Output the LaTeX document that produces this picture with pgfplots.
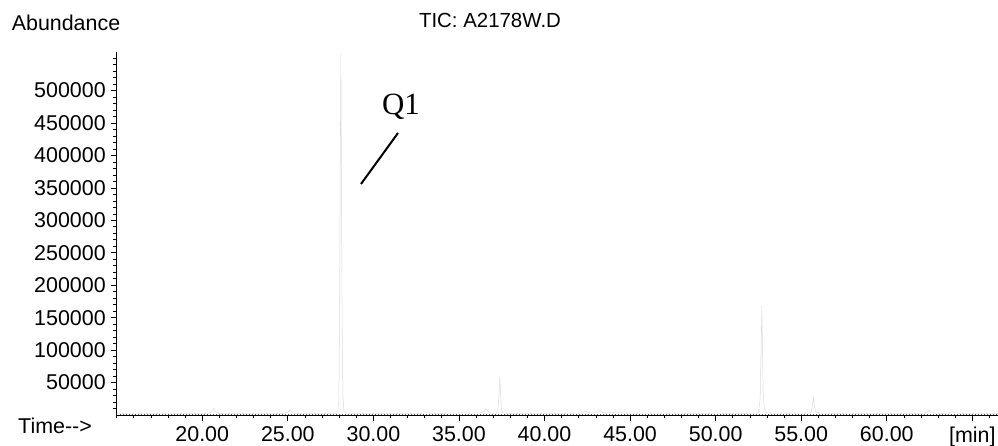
\documentclass[border=0pt]{standalone}
\usepackage{fontspec}
\setmainfont{Liberation Sans}
\newfontfamily\serifQ{Liberation Serif}
\usepackage{pgfplots}
\pgfplotsset{compat=1.18}
\begin{document}
\begin{tikzpicture}[x=1bp,y=1bp]
\path[use as bounding box] (0,0) rectangle (998,446);
\begin{axis}[
  at={(116.7bp,31bp)}, anchor=south west,
  scale only axis, width=881.3bp, height=362.8bp,
  xmin=15, xmax=66.5, ymin=0, ymax=559200,
  axis x line*=bottom, axis y line*=left,
  axis line style={line width=0.9bp, -},
  tick align=outside,
  major tick length=6bp, minor tick length=3.5bp,
  tick style={black, line width=0.7bp},
  scaled y ticks=false,
  xtick={20,25,30,35,40,45,50,55,60,65},
  xticklabels={20.00,25.00,30.00,35.00,40.00,45.00,50.00,55.00,60.00,{[min]}},
  minor xtick={15,16,...,66},
  ytick={50000,100000,...,500000},
  yticklabels={50000,100000,150000,200000,250000,300000,350000,400000,450000,500000},
  minor ytick={10000,20000,...,550000},
  ticklabel style={font=\fontsize{21.5}{25}\selectfont},
  yticklabel style={xshift=-1.5bp},
  xticklabel style={yshift=-2bp},
  /pgf/number format/assume math mode=true,
  clip=false,
]
\addplot[black!14, line width=0.5bp] coordinates {
(15.0,1800)(15.5,2000)(16.0,1700)(16.5,2100)(17.0,1900)(17.5,2200)(18.0,1800)(18.5,2000)(19.0,2300)(19.5,2100)(20.0,2200)(20.4,2400)(20.55,5000)(20.67,10500)(20.8,5000)(20.95,2600)(21.3,2200)(21.8,2400)(22.3,2000)(22.8,2200)(23.3,1900)(23.8,2100)(24.3,2300)(24.8,2500)(25.0,4000)(25.15,8000)(25.3,3000)(25.6,2300)(26.1,2000)(26.6,2200)(27.1,2100)(27.6,2400)(27.9,2600)(27.98,20000)(28.02,150000)(28.06,370000)(28.10,558000)(28.13,380000)(28.17,150000)(28.22,30000)(28.28,6000)(28.4,3000)(28.8,2400)(29.3,2200)(29.8,2000)(30.3,2300)(30.8,2100)(31.3,2500)(31.8,2300)(32.3,2600)(32.8,2400)(33.1,3500)(33.4,2400)(33.9,2600)(34.4,2800)(34.9,3000)(35.2,3800)(35.5,3200)(35.8,2900)(36.2,3000)(36.45,5000)(36.58,9400)(36.72,4500)(36.9,3000)(37.2,2800)(37.3,12000)(37.35,35000)(37.39,59000)(37.43,35000)(37.48,10000)(37.55,3200)(37.9,2600)(38.4,2500)(38.9,2400)(39.4,2600)(39.9,2500)(40.4,2300)(40.9,2700)(41.4,2500)(41.9,2800)(42.25,3500)(42.42,6300)(42.6,3400)(42.9,3000)(43.05,4500)(43.21,7400)(43.38,4000)(43.6,3200)(44.1,3500)(44.6,3000)(45.1,2800)(45.6,3000)(46.1,2700)(46.6,2900)(47.1,2600)(47.6,2800)(48.1,2700)(48.6,2500)(49.1,2700)(49.6,2600)(50.1,2800)(50.6,2500)(51.1,2700)(51.6,2600)(52.1,2800)(52.5,3000)(52.6,25000)(52.65,90000)(52.7,169000)(52.74,92000)(52.78,35000)(52.84,10000)(52.9,7000)(52.98,3500)(53.3,3000)(53.8,2800)(54.3,2600)(54.8,2900)(55.3,2700)(55.58,3500)(55.66,16000)(55.71,27000)(55.76,14000)(55.81,10000)(55.88,4000)(56.2,3000)(56.7,2700)(57.2,2500)(57.7,2800)(58.2,2600)(58.7,2400)(59.2,2700)(59.7,2500)(60.2,2600)(60.7,2400)(61.2,2700)(61.7,2500)(62.2,2800)(62.35,4500)(62.47,7800)(62.6,4000)(62.8,2800)(63.3,2600)(63.7,3500)(63.83,5000)(63.95,3000)(64.3,2600)(64.8,2500)(65.3,2700)(65.8,2500)(66.5,2600)
};
\addplot[black!65, line width=0.6bp, dash pattern=on 1.2bp off 1.8bp] coordinates {(15.2,1600)(66.5,1600)};
\end{axis}
\draw[line width=2bp] (361,262) -- (398,313);
\node[font=\serifQ\fontsize{31}{36}\selectfont] at (401,339) {Q1};
\node[font=\fontsize{21.5}{25}\selectfont] at (66,423) {Abundance};
\node[font=\fontsize{20.5}{24}\selectfont] at (490,426) {TIC: A2178W.D};
\node[font=\fontsize{21.5}{25}\selectfont] at (55,20) {Time-{}-{}>};
\end{tikzpicture}
\end{document}
